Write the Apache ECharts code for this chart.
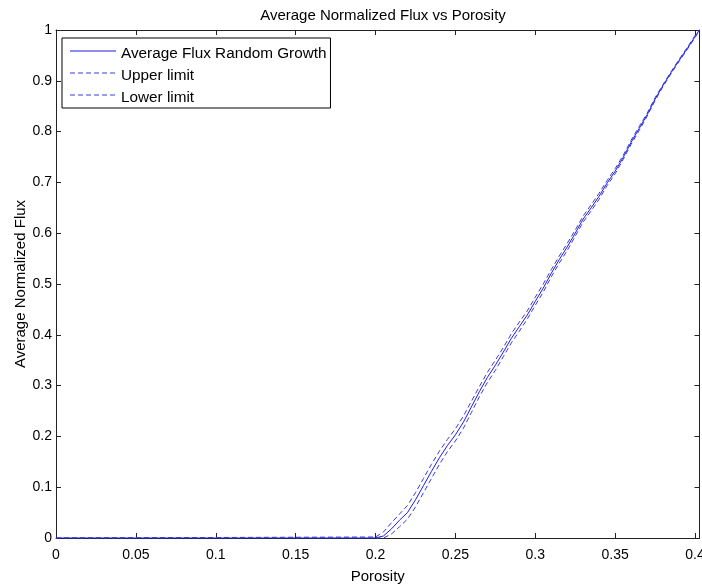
<!DOCTYPE html>
<html>
<head>
<meta charset="utf-8">
<script src="https://cdn.jsdelivr.net/npm/echarts@6/dist/echarts.min.js"></script>
<style>
html,body{margin:0;padding:0;background:#fff;}
#chart{width:702px;height:588px;}
</style>
</head>
<body>
<div id="chart"></div>
<script>
var porosity = [0, 0.2, 0.205, 0.21, 0.215, 0.22, 0.225, 0.23, 0.235, 0.24, 0.245, 0.25, 0.255, 0.26, 0.265, 0.27, 0.275, 0.28, 0.285, 0.29, 0.295, 0.3, 0.305, 0.31, 0.315, 0.32, 0.325, 0.33, 0.335, 0.34, 0.345, 0.35, 0.355, 0.36, 0.365, 0.37, 0.375, 0.38, 0.385, 0.39, 0.395, 0.4, 0.4028];
var avgFlux = [0, 0, 0.004, 0.018, 0.035, 0.050, 0.075, 0.103, 0.131, 0.158, 0.182, 0.203, 0.228, 0.258, 0.288, 0.316, 0.340, 0.366, 0.393, 0.416, 0.439, 0.466, 0.492, 0.521, 0.548, 0.573, 0.600, 0.628, 0.650, 0.673, 0.699, 0.722, 0.749, 0.779, 0.806, 0.833, 0.864, 0.891, 0.916, 0.940, 0.963, 0.987, 1.0];
var upperLimit = [0, 0.002, 0.012, 0.030, 0.047, 0.064, 0.089, 0.117, 0.145, 0.171, 0.194, 0.215, 0.240, 0.269, 0.298, 0.326, 0.350, 0.375, 0.402, 0.425, 0.447, 0.474, 0.500, 0.528, 0.555, 0.580, 0.606, 0.634, 0.656, 0.679, 0.704, 0.727, 0.753, 0.783, 0.810, 0.836, 0.867, 0.893, 0.918, 0.942, 0.965, 0.989, 1.0];
var lowerLimit = [0, 0, 0, 0.008, 0.022, 0.037, 0.061, 0.089, 0.117, 0.145, 0.170, 0.191, 0.216, 0.247, 0.278, 0.306, 0.330, 0.357, 0.384, 0.407, 0.431, 0.458, 0.484, 0.514, 0.541, 0.566, 0.594, 0.622, 0.644, 0.667, 0.694, 0.717, 0.745, 0.775, 0.802, 0.830, 0.861, 0.889, 0.914, 0.938, 0.961, 0.985, 1.0];
var seriesNames = ['Average Flux Random Growth', 'Upper limit', 'Lower limit'];

function pairs(xs, ys) { return xs.map(function (x, i) { return [x, ys[i]]; }); }

var FONT = 'Liberation Sans, Arial, Helvetica, sans-serif';
var MAIN = '#1c1ce0', LIMIT = '#3a3ade';
var axisLineStyle = { color: '#222', width: 1 };

// legend layout (box geometry)
var LEG_LEFT = 62, LEG_TOP = 38, LEG_PAD = [8, 4, 3, 8], LEG_ITEM_H = 15, LEG_GAP = 7, LEG_ITEM_W = 46;
function legendSample(i, color, dash) {
  var y = LEG_TOP + LEG_PAD[0] + i * (LEG_ITEM_H + LEG_GAP) + LEG_ITEM_H / 2 - 2.5;
  var x0 = LEG_LEFT + LEG_PAD[3];
  return {
    type: 'line', z: 100,
    shape: { x1: x0, y1: y, x2: x0 + LEG_ITEM_W, y2: y },
    style: { stroke: color, lineWidth: 1, lineDash: dash }
  };
}

var chart = echarts.init(document.getElementById('chart'), null, { renderer: 'canvas' });
chart.setOption({
  animation: false,
  backgroundColor: '#fff',
  title: {
    text: 'Average Normalized Flux vs Porosity',
    left: 378, top: 3, textAlign: 'center',
    textStyle: { fontFamily: FONT, fontSize: 15, fontWeight: 'normal', color: '#000' }
  },
  legend: {
    orient: 'vertical', left: LEG_LEFT, top: LEG_TOP,
    backgroundColor: '#fff', borderColor: '#000', borderWidth: 1,
    padding: LEG_PAD, itemWidth: LEG_ITEM_W, itemHeight: LEG_ITEM_H, itemGap: LEG_GAP,
    icon: 'rect',
    itemStyle: { color: '#fff', borderWidth: 0 },
    textStyle: { fontFamily: FONT, fontSize: 15.3, color: '#000' },
    selectedMode: false,
    data: seriesNames
  },
  graphic: [
    legendSample(0, MAIN, null),
    legendSample(1, LIMIT, [5, 3]),
    legendSample(2, LIMIT, [5, 3])
  ],
  grid: { left: 56, right: 2.5, top: 30, bottom: 50, outerBoundsMode: 'none', containLabel: false },
  xAxis: [{
    type: 'value', min: 0, max: 0.4028, interval: 0.05,
    name: 'Porosity', nameLocation: 'middle', nameGap: 31, nameMoveOverlap: false,
    nameTextStyle: { fontFamily: FONT, fontSize: 15, color: '#000' },
    axisLine: { show: true, lineStyle: axisLineStyle },
    axisTick: { show: true, inside: true, length: 5, lineStyle: axisLineStyle },
    axisLabel: { fontFamily: FONT, fontSize: 14, color: '#000', margin: 10, showMaxLabel: false,
      formatter: function (v) { return String(Math.round(v * 100) / 100); } },
    splitLine: { show: false }
  }, {
    type: 'value', position: 'top', min: 0, max: 0.4028, interval: 0.05,
    axisLine: { show: true, onZero: false, lineStyle: axisLineStyle },
    axisTick: { show: true, inside: true, length: 5, lineStyle: axisLineStyle },
    axisLabel: { show: false }, splitLine: { show: false }
  }],
  yAxis: [{
    type: 'value', min: 0, max: 1, interval: 0.1,
    name: 'Average Normalized Flux', nameLocation: 'middle', nameGap: 28, nameRotate: 90, nameMoveOverlap: false,
    nameTextStyle: { fontFamily: FONT, fontSize: 15, color: '#000' },
    axisLine: { show: true, lineStyle: axisLineStyle },
    axisTick: { show: true, inside: true, length: 5, lineStyle: axisLineStyle },
    axisLabel: { fontFamily: FONT, fontSize: 14, color: '#000', margin: 4,
      formatter: function (v) { return String(Math.round(v * 10) / 10); } },
    splitLine: { show: false }
  }, {
    type: 'value', position: 'right', min: 0, max: 1, interval: 0.1,
    axisLine: { show: true, onZero: false, lineStyle: axisLineStyle },
    axisTick: { show: true, inside: true, length: 5, lineStyle: axisLineStyle },
    axisLabel: { show: false }, splitLine: { show: false }
  }],
  series: [{
    name: seriesNames[0], type: 'line', data: pairs(porosity, avgFlux),
    showSymbol: false, symbol: 'none',
    lineStyle: { color: MAIN, width: 1 }, itemStyle: { color: MAIN }
  }, {
    name: seriesNames[1], type: 'line', data: pairs(porosity, upperLimit),
    showSymbol: false, symbol: 'none',
    lineStyle: { color: LIMIT, width: 1, type: [5, 3] }, itemStyle: { color: LIMIT }
  }, {
    name: seriesNames[2], type: 'line', data: pairs(porosity, lowerLimit),
    showSymbol: false, symbol: 'none',
    lineStyle: { color: LIMIT, width: 1, type: [5, 3] }, itemStyle: { color: LIMIT }
  }]
});
</script>
</body>
</html>
